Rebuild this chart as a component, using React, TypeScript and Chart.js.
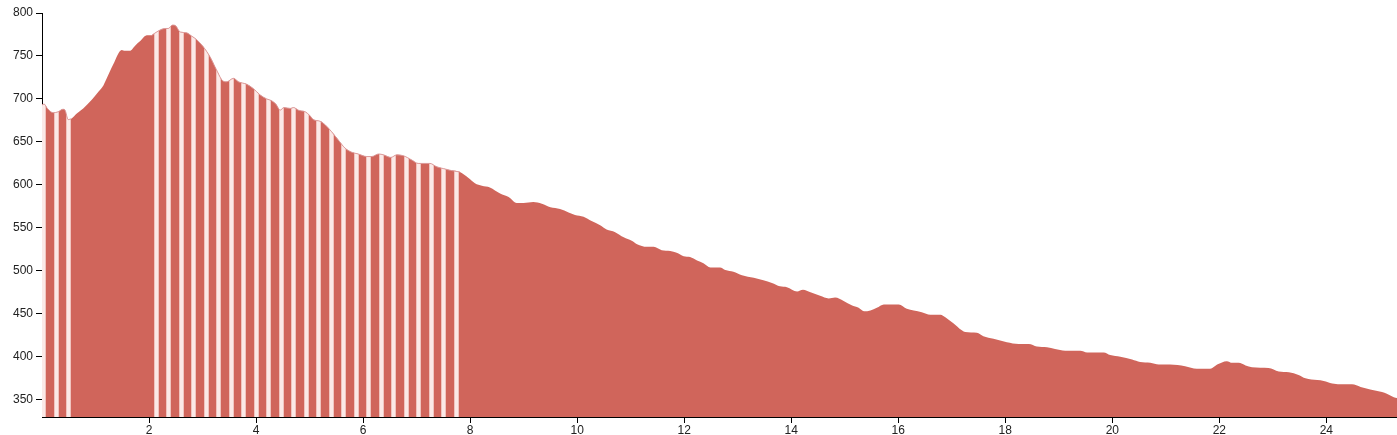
import React, { useEffect, useRef } from "react";
import { Chart, registerables } from "chart.js";

Chart.register(...registerables);

const distances: number[] = [
  0.0, 0.04, 0.1, 0.21, 0.3, 0.39, 0.43, 0.49, 0.55, 0.65, 0.77, 0.93, 1.05, 1.15, 1.21, 1.33, 1.49, 1.55, 1.64, 1.74,
  1.83, 1.96, 2.05, 2.17, 2.3, 2.36, 2.44, 2.5, 2.58, 2.7, 2.8, 2.89, 3.01, 3.14, 3.26, 3.38, 3.45, 3.58, 3.67, 3.83,
  3.95, 4.07, 4.2, 4.29, 4.37, 4.45, 4.52, 4.64, 4.7, 4.79, 4.92, 5.0, 5.07, 5.2, 5.29, 5.41, 5.54, 5.66, 5.79, 5.91,
  6.07, 6.16, 6.29, 6.38, 6.52, 6.63, 6.75, 6.91, 7.03, 7.25, 7.38, 7.5, 7.63, 7.81, 7.97, 8.09, 8.22, 8.37, 8.56, 8.72,
  8.87, 9.0, 9.18, 9.34, 9.5, 9.68, 9.84, 9.96, 10.12, 10.27, 10.43, 10.55, 10.71, 10.87, 11.02, 11.12, 11.3, 11.43, 11.58, 11.74,
  11.86, 11.99, 12.11, 12.24, 12.36, 12.49, 12.67, 12.77, 12.92, 13.08, 13.3, 13.48, 13.64, 13.79, 13.92, 14.11, 14.22, 14.36, 14.54, 14.7,
  14.82, 14.98, 15.13, 15.26, 15.36, 15.48, 15.6, 15.73, 16.01, 16.16, 16.29, 16.44, 16.6, 16.79, 16.88, 17.03, 17.25, 17.47, 17.59, 17.78,
  18.03, 18.25, 18.44, 18.59, 18.78, 18.93, 19.12, 19.4, 19.53, 19.84, 19.96, 20.15, 20.37, 20.52, 20.71, 20.87, 21.08, 21.36, 21.58, 21.83,
  21.96, 22.14, 22.24, 22.36, 22.49, 22.61, 22.92, 23.11, 23.3, 23.48, 23.61, 23.83, 23.95, 24.11, 24.32, 24.48, 24.64, 24.82, 25.04, 25.13,
  25.26, 25.32,
];

const elevations: number[] = [
  693, 694, 689, 684, 685, 688, 687, 676, 677, 683, 689, 699, 708, 716, 724, 740, 757, 756, 756, 762,
  767, 774, 774, 779, 782, 782, 786, 785, 778, 777, 773, 769, 761, 749, 734, 721, 720, 724, 720, 717,
  712, 705, 700, 698, 694, 687, 690, 689, 690, 687, 685, 681, 676, 674, 670, 662, 652, 643, 638, 636,
  633, 633, 636, 635, 632, 635, 634, 629, 625, 625, 621, 619, 617, 615, 608, 602, 599, 597, 590, 586,
  579, 579, 580, 578, 574, 572, 568, 565, 563, 558, 553, 548, 545, 539, 535, 531, 528, 528, 524, 523,
  521, 517, 516, 512, 509, 504, 504, 501, 499, 495, 492, 489, 486, 482, 481, 476, 478, 475, 471, 468,
  469, 465, 460, 457, 453, 454, 457, 461, 461, 456, 454, 452, 449, 449, 446, 439, 429, 428, 424, 421,
  417, 415, 415, 412, 411, 409, 407, 407, 405, 405, 402, 400, 397, 394, 393, 391, 391, 389, 386, 386,
  391, 395, 393, 393, 390, 388, 387, 383, 382, 379, 375, 373, 372, 369, 368, 368, 365, 362, 359, 357,
  353, 352,
];

// Highlighted (striped) stretches of the profile, in km
const stripedRanges: [number, number][] = [
  [0, 0.55],
  [2.05, 7.81],
];

const yTicks: number[] = [350, 400, 450, 500, 550, 600, 650, 700, 750, 800];
const xTicks: number[] = [2, 4, 6, 8, 10, 12, 14, 16, 18, 20, 22, 24];

const FILL = "#d0655b";
const STRIPE = "#fbe9e7";
const STRIPE_EDGE = "#f0c4bf";

function makePattern(): CanvasPattern | string {
  const c = document.createElement("canvas");
  c.width = 25;
  c.height = 25;
  const g = c.getContext("2d");
  if (!g) return FILL;
  g.fillStyle = FILL;
  g.fillRect(0, 0, 25, 25);
  g.fillStyle = STRIPE_EDGE;
  g.fillRect(4, 0, 1, 25);
  g.fillRect(8, 0, 1, 25);
  g.fillRect(16, 0, 1, 25);
  g.fillRect(20, 0, 1, 25);
  g.fillStyle = STRIPE;
  g.fillRect(5, 0, 3, 25);
  g.fillRect(17, 0, 3, 25);
  const p = g.createPattern(c, "repeat");
  return p || FILL;
}

export default function App() {
  const ref = useRef<HTMLCanvasElement | null>(null);

  useEffect(() => {
    if (!ref.current) return;
    const base = distances.map((d, i) => ({ x: d, y: elevations[i] }));
    const striped = distances.map((d, i) => {
      const inside = stripedRanges.some(([a, b]) => d >= a && d <= b);
      return { x: d, y: inside ? elevations[i] : null };
    });
    const font = { family: "'Liberation Sans', Arial, sans-serif", size: 12 };
    const chart = new Chart(ref.current, {
      type: "line",
      data: {
        datasets: [
          {
            data: striped as any,
            backgroundColor: makePattern() as any,
            borderColor: "#dc9c9c",
            borderWidth: 1,
            pointRadius: 0,
            fill: "start",
            spanGaps: false,
            cubicInterpolationMode: "monotone",
          },
          {
            data: base,
            backgroundColor: FILL,
            borderWidth: 0,
            borderColor: FILL,
            pointRadius: 0,
            fill: "start",
            cubicInterpolationMode: "monotone",
          },
        ],
      },
      options: {
        animation: false,
        responsive: true,
        maintainAspectRatio: false,
        layout: { padding: { top: 13, left: 0, right: 0, bottom: 0 } },
        plugins: { legend: { display: false }, tooltip: { enabled: false } },
        scales: {
          x: {
            type: "linear",
            min: 0,
            max: 25.32,
            afterBuildTicks: (s: any) => {
              s.ticks = xTicks.map((v) => ({ value: v }));
            },
            afterFit: (s: any) => {
              s.height = 18;
            },
            grid: { drawOnChartArea: false, drawTicks: true, tickLength: 6, color: "#000" },
            border: { display: true, color: "#000", width: 1 },
            ticks: { color: "#222", font, padding: 0, maxRotation: 0, autoSkip: false },
          },
          y: {
            type: "linear",
            min: 330,
            max: 800,
            afterBuildTicks: (s: any) => {
              s.ticks = yTicks.map((v) => ({ value: v }));
            },
            afterFit: (s: any) => {
              s.width = 42;
            },
            grid: { drawOnChartArea: false, drawTicks: true, tickLength: 6, color: "#000" },
            border: { display: true, color: "#000", width: 1 },
            ticks: { color: "#222", font, padding: 3, autoSkip: false },
          },
        },
      },
    });
    return () => chart.destroy();
  }, []);

  return (
    <div style={{ position: "absolute", left: 0, top: 0, width: 1397, height: 435, background: "#fff" }}>
      <canvas ref={ref} />
    </div>
  );
}
